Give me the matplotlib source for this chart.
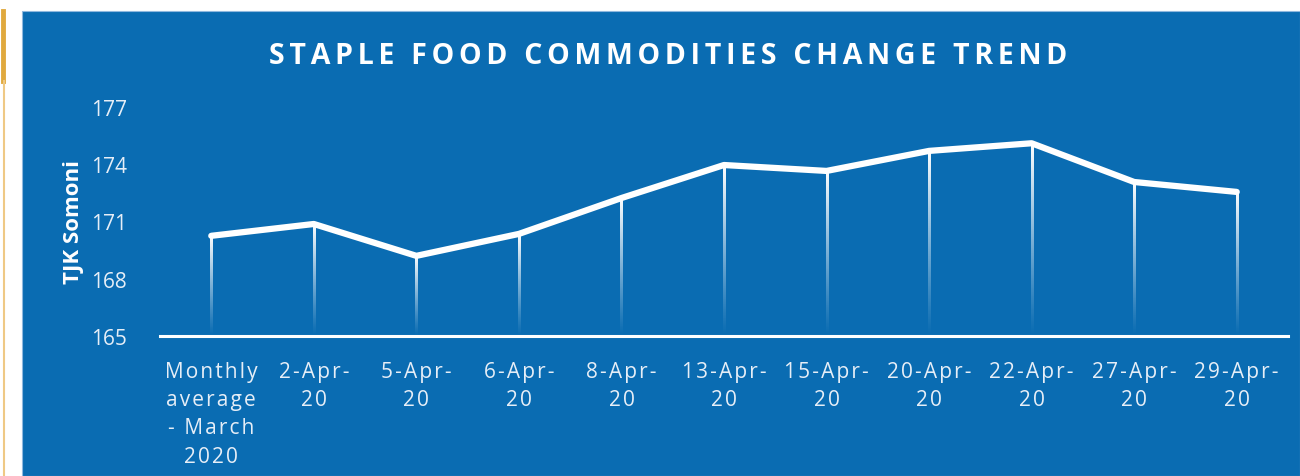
import matplotlib
matplotlib.use('Agg')
import matplotlib.pyplot as plt
from matplotlib.patches import Rectangle
from matplotlib.lines import Line2D
import numpy as np

dates = ['Monthly\naverage\n- March\n2020', '2-Apr-\n20', '5-Apr-\n20', '6-Apr-\n20', '8-Apr-\n20',
         '13-Apr-\n20', '15-Apr-\n20', '20-Apr-\n20', '22-Apr-\n20', '27-Apr-\n20', '29-Apr-\n20']
prices = [170.25, 170.87, 169.2, 170.35, 172.23, 173.96, 173.65, 174.7, 175.1, 173.07, 172.55]
yticks = [165, 168, 171, 174, 177]

BLUE = '#0a6cb2'
TXT = '#e6eef7'


def spaced(s, sp='\u200a'):
    # fake letter spacing, word spaces stay as they are
    return '\n'.join(sp.join(line) for line in s.split('\n'))


plt.rcParams['font.family'] = ['Open Sans', 'DejaVu Sans']

fig = plt.figure(figsize=(13, 4.77), dpi=100)
fig.patch.set_facecolor('white')
fig.patches.append(Rectangle((22 / 1300, 0), 1 - 22 / 1300, 1 - 12 / 477,
                             transform=fig.transFigure, facecolor=BLUE,
                             edgecolor='#8fb8de', lw=0.8, zorder=-10))
# orange accent on the left edge
fig.lines.append(Line2D([2.5 / 1300, 2.5 / 1300], [1 - 12 / 477, 1 - 82 / 477],
                        transform=fig.transFigure, color='#e0a93e', lw=3.5, zorder=-5))
fig.lines.append(Line2D([3.5 / 1300, 3.5 / 1300], [0, 1 - 82 / 477],
                        transform=fig.transFigure, color='#efc985', lw=1.5, zorder=-5))

ax = fig.add_axes([160 / 1300, 1 - 337 / 477, 1128 / 1300, 229 / 477])
ax.patch.set_alpha(0)
x = np.arange(len(prices))

# fading drop lines (white -> transparent towards the baseline)
grad = np.zeros((100, 1, 4))
grad[..., :3] = 1.0
grad[:, 0, 3] = np.linspace(1.0, 0.0, 100) ** 1.1
for xi, yi in zip(x, prices):
    ax.imshow(grad, extent=[xi - 0.01, xi + 0.01, yticks[0], yi], aspect='auto',
              interpolation='bilinear', zorder=2)

ax.plot(x, prices, color='white', lw=4.5, solid_capstyle='round',
        solid_joinstyle='round', zorder=3)

ax.set_xlim(-0.5, 10.5)
ax.set_ylim(165, 177)
ax.set_yticks(yticks)
ax.set_yticklabels([str(v) for v in yticks])
ax.set_xticks(x)
ax.set_xticklabels([spaced(d) for d in dates], linespacing=1.45)
ax.tick_params(axis='y', length=0, pad=24, labelsize=15, labelcolor=TXT)
ax.tick_params(axis='x', length=0, pad=18, labelsize=15, labelcolor=TXT)

for side in ['top', 'right', 'left']:
    ax.spines[side].set_visible(False)
ax.spines['bottom'].set_color('white')
ax.spines['bottom'].set_linewidth(2.2)

fig.text(74 / 1300, 1 - 222 / 477, 'TJK Somoni', rotation=90, color='white',
         fontsize=16, fontweight='bold', ha='center', va='center')
fig.text(668 / 1300, 1 - 57 / 477, spaced('STAPLE FOOD COMMODITIES CHANGE TREND', '\u2006'),
         color='white', fontsize=20.5, fontweight='bold', ha='center', va='center')

plt.savefig('out.png', dpi=100, facecolor=fig.get_facecolor())
